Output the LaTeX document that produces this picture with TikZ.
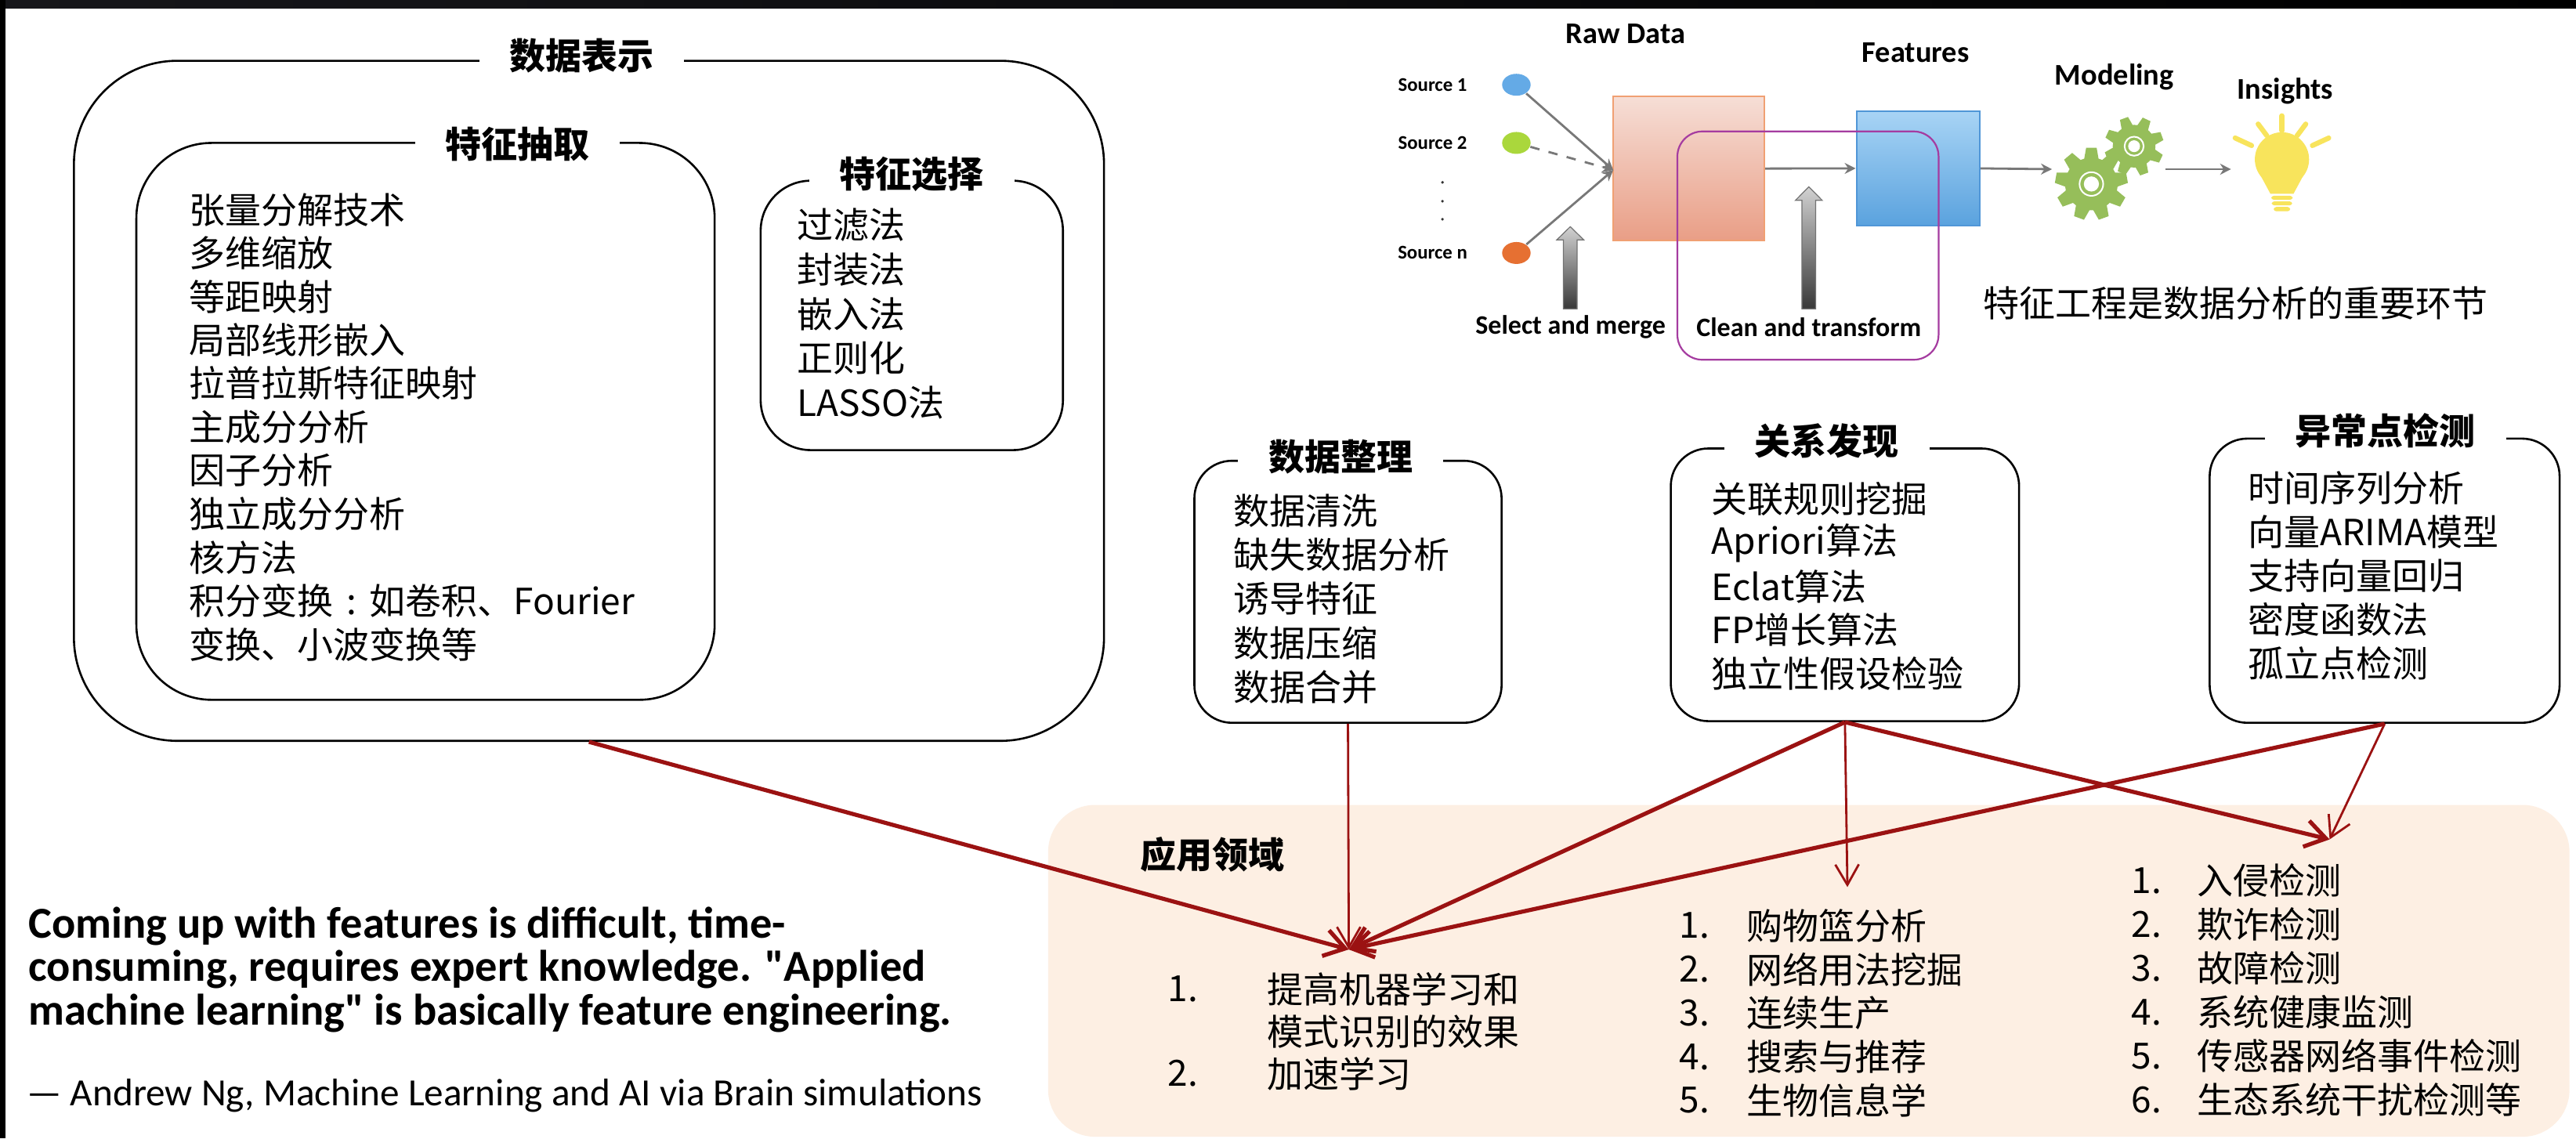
\documentclass[tikz,border=0pt]{standalone}
\usepackage{fontspec}
\setmainfont{Noto Sans CJK SC}
\newfontfamily\labfont{Carlito}
\newfontfamily\quotefont{Carlito}[Ligatures=TeXOff]
\usetikzlibrary{arrows.meta,calc,fit,shapes.geometric}

\definecolor{arrred}{RGB}{155,18,18}
\definecolor{peach}{RGB}{253,239,227}
\definecolor{pinktop}{RGB}{246,222,214}
\definecolor{pinkbot}{RGB}{233,158,134}
\definecolor{pinkedge}{RGB}{240,160,115}
\definecolor{bluetop}{RGB}{168,212,245}
\definecolor{bluebot}{RGB}{90,162,222}
\definecolor{blueedge}{RGB}{80,150,215}
\definecolor{loopcol}{RGB}{165,60,160}
\definecolor{gearcol}{RGB}{150,190,90}
\definecolor{bulbcol}{RGB}{248,228,92}
\definecolor{srcblue}{RGB}{100,170,230}
\definecolor{srcgreen}{RGB}{170,215,60}
\definecolor{srcorange}{RGB}{230,112,50}
\definecolor{flowgray}{RGB}{120,120,120}
\definecolor{bandgray}{RGB}{22,22,26}

\begin{document}
\begin{tikzpicture}[x=0.5243pt,y=-0.5243pt,
  panel/.style={draw=black, line width=0.65pt, inner sep=0pt},
  ttl/.style={fill=white, inner xsep=9.7pt, inner ysep=1pt, font=\fontsize{11.5}{13}\selectfont\bfseries},
  item/.style={anchor=west, inner sep=0pt, font=\fontsize{11.5}{13}\selectfont},
  quoteline/.style={anchor=base west, inner sep=0pt, font=\quotefont\bfseries\fontsize{14.1}{16}\selectfont},
  lab/.style={inner sep=0pt, font=\labfont\bfseries\fontsize{9.6}{11}\selectfont},
  srclab/.style={inner sep=0pt, font=\labfont\bfseries\fontsize{6.2}{7}\selectfont},
  steplab/.style={inner sep=0pt, font=\labfont\bfseries\fontsize{8.5}{10}\selectfont},
  linkthick/.style={draw=arrred, line width=1.3pt, -{Straight Barb[length=6.5pt,width=8.5pt]}},
  linkthin/.style={draw=arrred, line width=0.7pt, -{Straight Barb[length=6.5pt,width=7.5pt]}},
  flow/.style={draw=flowgray, line width=0.7pt, -{Stealth[length=3.5pt,width=3.5pt]}},
  blockarrow/.style={top color=black!18, bottom color=black!78, draw=black!55, line width=0.3pt},
]
% page and frame
\useasboundingbox (0,0) rectangle (1568,693);
\fill[white] (0,0) rectangle (1568,693);
\shade[left color=bandgray, right color=black] (0,0) rectangle (1568,4.8);
\fill[black] (0,0) rectangle (3.3,693);

% ---------- data representation ----------
\node[panel, rounded corners=33pt, fit={(45,37) (672,451)}] (rep) {};
\node[ttl] (repT) at (354,34) {数据表示};

\node[panel, rounded corners=24pt, fit={(83,87) (435,426)}] (fex) {};
\node[ttl] (fexT) at (315,88) {特征抽取};
\foreach \t [count=\i] in {张量分解技术,多维缩放,等距映射,局部线形嵌入,拉普拉斯特征映射,主成分分析,因子分析,独立成分分析,核方法,{积分变换\makebox[1em]{:}如卷积、Fourier},变换、小波变换等}
  \node[item] (fx\i) at (115,{127.7+26.45*(\i-1)}) {\t};

\node[panel, rounded corners=16pt, fit={(463,110) (647,274)}] (fsel) {};
\node[ttl] (fselT) at (555,106) {特征选择};
\foreach \t [count=\i] in {过滤法,封装法,嵌入法,正则化,LASSO法}
  \node[item] (fs\i) at (485,{137+27*(\i-1)}) {\t};

% ---------- data preparation / relations / anomalies ----------
\node[panel, rounded corners=12pt, fit={(727,280.5) (914,440)}] (dclean) {};
\node[ttl] (dcleanT) at (816,278) {数据整理};
\foreach \t [count=\i] in {数据清洗,缺失数据分析,诱导特征,数据压缩,数据合并}
  \node[item] (dc\i) at (750.6,{311+26.8*(\i-1)}) {\t};

\node[panel, rounded corners=12pt, fit={(1017,273) (1229,439)}] (rel) {};
\node[ttl] (relT) at (1112,268.6) {关系发现};
\foreach \t [count=\i] in {关联规则挖掘,Apriori算法,Eclat算法,FP增长算法,独立性假设检验}
  \node[item] (rl\i) at (1041.5,{304+26.5*(\i-1)}) {\t};

\node[panel, rounded corners=12pt, fit={(1345,267) (1558,440)}] (anom) {};
\node[ttl] (anomT) at (1452,262) {异常点检测};
\foreach \t [count=\i] in {时间序列分析,向量ARIMA模型,支持向量回归,密度函数法,孤立点检测}
  \node[item] (an\i) at (1368,{297+26.75*(\i-1)}) {\t};

% ---------- application fields ----------
\node[fill=peach, rounded corners=15pt, inner sep=0pt, fit={(638,490) (1564,692)}] (app) {};

\coordinate (hubA) at (821,578);
\coordinate (hubB) at (1124.5,540);
\coordinate (hubC) at (1418,511);
\draw[linkthick] (rep.south) -- (hubA);
\draw[linkthin] (dclean.south) -- (hubA);
\draw[linkthick] (rel.south) -- (hubA);
\draw[linkthick] (anom.south) -- (hubA);
\draw[linkthin] (rel.south) -- (hubB);
\draw[linkthick] (rel.south) -- (hubC);
\draw[linkthin] (anom.south) -- (hubC);

\node[inner sep=0pt, font=\fontsize{11.5}{13}\selectfont\bfseries] (appT) at (738,520) {应用领域};

\node[item] (a1n) at (710.6,602) {1.};
\node[item] (a1) at (771,602) {提高机器学习和};
\node[item] (a1b) at (771,628) {模式识别的效果};
\node[item] (a2n) at (710.6,653.5) {2.};
\node[item] (a2) at (771,653.5) {加速学习};

\foreach \t [count=\i] in {购物篮分析,网络用法挖掘,连续生产,搜索与推荐,生物信息学} {
  \node[item] (bn\i) at (1022,{563.5+26.6*(\i-1)}) {\i.};
  \node[item] (b\i) at (1063,{563.5+26.6*(\i-1)}) {\t};
}
\foreach \t [count=\i] in {入侵检测,欺诈检测,故障检测,系统健康监测,传感器网络事件检测,生态系统干扰检测等} {
  \node[item] (cn\i) at (1297,{536+26.7*(\i-1)}) {\i.};
  \node[item] (c\i) at (1337,{536+26.7*(\i-1)}) {\t};
}

% ---------- quotation ----------
\node[quoteline] (q1) at (17,571) {Coming up with features is difficult, time-};
\node[quoteline] (q2) at (17,597.5) {consuming, requires expert knowledge. "Applied};
\node[quoteline] (q3) at (17,624) {machine learning" is basically feature engineering.};
\node[anchor=base west, inner sep=0pt, font=\quotefont\fontsize{12.3}{14}\selectfont] (qa) at (16,673) {— Andrew Ng, Machine Learning and AI via Brain simulations};

% ---------- feature engineering pipeline ----------
\node[lab] (rawT) at (989.5,20.7) {Raw Data};
\node[lab] (featT) at (1166,32) {Features};
\node[lab] (modT) at (1287,47) {Modeling};
\node[lab] (insT) at (1391,55.6) {Insights};

\node[srclab] (s1T) at (872,51.6) {Source 1};
\node[srclab] (s2T) at (872,87) {Source 2};
\node[srclab] (snT) at (872,154) {Source n};
\foreach \yy in {111,122.5,133.5} \fill[black!80] (878,\yy) circle (0.9);

\node[ellipse, fill=srcblue, minimum width=9.1pt, minimum height=7pt, inner sep=0pt] (src1) at (923,51.6) {};
\node[ellipse, fill=srcgreen, minimum width=9.1pt, minimum height=7pt, inner sep=0pt] (src2) at (923,87) {};
\node[ellipse, fill=srcorange, minimum width=9.1pt, minimum height=7pt, inner sep=0pt] (srcn) at (923,154) {};

\node[draw=pinkedge, line width=0.5pt, top color=pinktop, bottom color=pinkbot, inner sep=0pt, fit={(982,58.7) (1074,146.5)}] (rawbox) {};
\node[draw=blueedge, line width=0.5pt, top color=bluetop, bottom color=bluebot, inner sep=0pt, fit={(1130,67.5) (1205,137.5)}] (featbox) {};

\coordinate (merge) at (982,103.5);
\draw[flow] (src1) -- (merge);
\draw[flow, dashed] (src2) -- (merge);
\draw[flow] (srcn) -- (merge);

\coordinate (gearin) at (1249,103);
\coordinate (gearout) at (1318,103);
\coordinate (bulbin) at (1358,103);
\draw[flow] (rawbox.east) -- (featbox.west);
\draw[flow] (featbox.east) -- (gearin);
\draw[flow] (gearout) -- (bulbin);

% gears
\begin{scope}[shift={(1273,112)}]
  \fill[gearcol] (0,0) circle (16);
  \foreach \a in {0,40,...,320}
    \fill[gearcol, rotate=\a] (-4.6,-14) -- (-3.2,-22) -- (3.2,-22) -- (4.6,-14) -- cycle;
  \draw[white, line width=0.5pt] (0,0) circle (7.2);
  \fill[white] (0,0) circle (4.6);
\end{scope}
\begin{scope}[shift={(1299,89)}]
  \fill[gearcol] (0,0) circle (13);
  \foreach \a in {20,65,...,335}
    \fill[gearcol, rotate=\a] (-3.8,-11) -- (-2.6,-18) -- (2.6,-18) -- (3.8,-11) -- cycle;
  \draw[white, line width=0.5pt] (0,0) circle (5.8);
  \fill[white] (0,0) circle (3.6);
\end{scope}

% light bulb
\fill[bulbcol] (1389,97) circle (16.5);
\fill[bulbcol] (1373.4,102) -- (1404.6,102) -- (1396,118) -- (1382,118) -- cycle;
\fill[bulbcol, rounded corners=0.8pt] (1382.5,119.2) rectangle (1395.5,121.6);
\fill[bulbcol, rounded corners=0.8pt] (1382.8,122.6) rectangle (1395.2,125);
\fill[bulbcol, rounded corners=0.8pt] (1384,126) rectangle (1394,128.6);
\begin{scope}[draw=bulbcol, line width=1.6pt, line cap=round]
  \draw (1389,70.5) -- (1389,79.5);
  \draw (1374.5,75.5) -- (1379.8,82.6);
  \draw (1403.5,75.5) -- (1398.2,82.6);
  \draw (1360.5,84) -- (1370.5,88.6);
  \draw (1417.5,84) -- (1407.5,88.6);
\end{scope}

% block arrows
\shade[blockarrow] (951.6,188) -- (951.6,146) -- (947.6,146) -- (955.8,138) -- (964,146) -- (960,146) -- (960,188) -- cycle;
\shade[blockarrow] (1096.8,188) -- (1096.8,122) -- (1092.8,122) -- (1101,113.7) -- (1109.2,122) -- (1105.2,122) -- (1105.2,188) -- cycle;

\node[steplab] (selT) at (956,199) {Select and merge};
\node[steplab] (clnT) at (1101,199) {Clean and transform};

% clean-and-transform loop
\node[draw=loopcol, line width=0.55pt, rounded corners=8pt, inner sep=0pt, fit={(1021,80) (1180,219)}] (loop) {};

\node[item] (fecap) at (1207,184.5) {特征工程是数据分析的重要环节};
\end{tikzpicture}
\end{document}
